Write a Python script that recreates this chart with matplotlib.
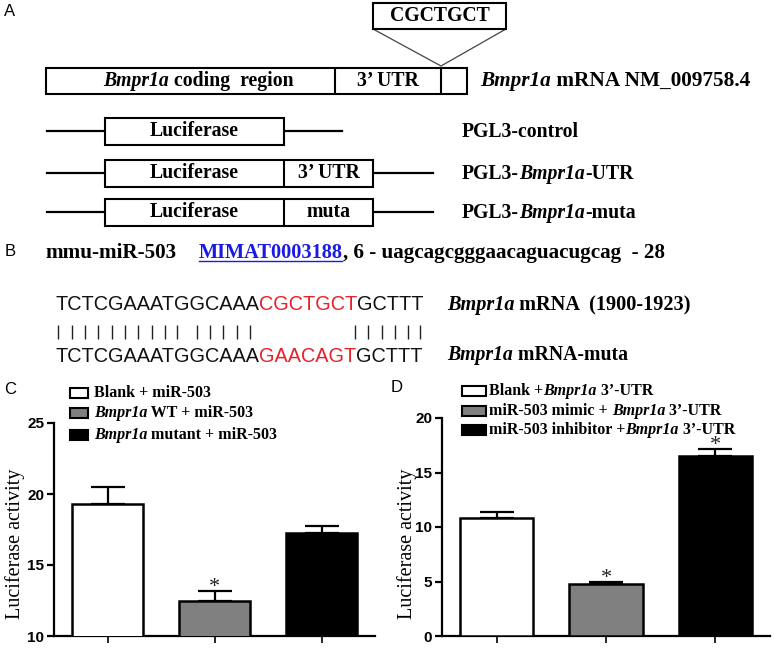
import numpy as np
import matplotlib
matplotlib.use('Agg')
import matplotlib.pyplot as plt
from matplotlib.patches import Rectangle

SERIF = 'Liberation Serif'
SANS = 'Liberation Sans'
RED = '#e8202a'
BLUE = '#1a1ae6'
GRAY = '#808080'

# panel C: luciferase activity, target vs mutant
c_values = [19.3, 12.5, 17.25]
c_errors = [1.2, 0.7, 0.5]
c_colors = ['white', GRAY, 'black']
c_star = [False, True, False]
c_yticks = [10, 15, 20, 25]
c_legend = [[('Blank + miR-503', 'b')],
            [('Bmpr1a', 'bi'), (' WT + miR-503', 'b')],
            [('Bmpr1a', 'bi'), (' mutant + miR-503', 'b')]]

# panel D: mimic / inhibitor
d_values = [10.8, 4.75, 16.55]
d_errors = [0.55, 0.25, 0.6]
d_colors = ['white', GRAY, 'black']
d_star = [False, True, True]
d_yticks = [0, 5, 10, 15, 20]
d_legend = [[('Blank +', 'b'), ('Bmpr1a', 'bi'), (' 3\u2019-UTR', 'b')],
            [('miR-503 mimic + ', 'b'), ('Bmpr1a', 'bi'), (' 3\u2019-UTR', 'b')],
            [('miR-503 inhibitor +', 'b'), ('Bmpr1a', 'bi'), (' 3\u2019-UTR', 'b')]]

# panel B sequences
seq_wt = ['TCTCGAAATGGCAAA', 'CGCTGCT', 'GCTTT']
seq_mut = ['TCTCGAAATGGCAAA', 'GAACAGT', 'GCTTT']
mirna = ', 6 - uagcagcgggaacaguacugcag  - 28'

fig = plt.figure(figsize=(7.74, 6.49), dpi=100)
ax0 = fig.add_axes([0, 0, 1, 1], zorder=0)
ax0.set_xlim(0, 774)
ax0.set_ylim(649, 0)
ax0.axis('off')


def write(x, y, parts, size=14.2, family=SERIF, color='black'):
    # draws text pieces one after the other, each with its own style
    t = None
    for part in parts:
        s, style = part[0], part[1]
        col = part[2] if len(part) > 2 else color
        kw = dict(fontsize=size, family=family, color=col,
                  fontweight='bold' if 'b' in style else 'normal',
                  fontstyle='italic' if 'i' in style else 'normal')
        if t is None:
            t = ax0.text(x, y, s, ha='left', va='center', **kw)
        else:
            t = ax0.annotate(s, xy=(1, 0), xycoords=t, ha='left', va='bottom', **kw)
    return t


def box(x0, x1, yc, h=27):
    ax0.add_patch(Rectangle((x0, yc - h / 2), x1 - x0, h, facecolor='white',
                            edgecolor='black', lw=1.5, zorder=3))


def center_text(x, y, s, size=14.2):
    ax0.text(x, y, s, ha='center', va='center', fontsize=size, family=SERIF,
             fontweight='bold', zorder=4)


# ---- A: constructs ----
ax0.text(10, 12, 'A', ha='center', va='center', family=SANS, fontsize=12)
box(373, 506, 16, 26)
center_text(439.5, 16, 'CGCTGCT')
ax0.plot([373, 441, 506], [29, 66, 29], color='#444444', lw=0.9)

box(46, 467, 81, 26)
ax0.vlines([335, 441], 68, 94, color='black', lw=1.5, zorder=4)
write(103, 81, [('Bmpr1a', 'bi'), (' coding  region', 'b')])
center_text(388, 81, '3\u2019 UTR')
write(480, 81, [('Bmpr1a', 'bi'), (' mRNA NM_009758.4', 'b')], size=15.3)

# PGL3-control
ax0.plot([47, 342], [131, 131], color='black', lw=1.6, zorder=2)
box(105, 284, 131)
center_text(194.5, 131, 'Luciferase')
write(462, 132, [('PGL3-control', 'b')])

# PGL3-UTR and muta
for yc, insert, tail in [(173, '3\u2019 UTR', '-UTR'), (212, 'muta', '-muta')]:
    ax0.plot([47, 433], [yc, yc], color='black', lw=1.6, zorder=2)
    box(105, 373, yc)
    ax0.vlines(284, yc - 13.5, yc + 13.5, color='black', lw=1.5, zorder=4)
    center_text(194.5, yc, 'Luciferase')
    center_text(328.5, yc, insert)
    write(462, yc + 1, [('PGL3-', 'b'), ('Bmpr1a', 'bi'), (tail, 'b')])

# ---- B: seed match ----
ax0.text(10, 252, 'B', ha='center', va='center', family=SANS, fontsize=12)
write(45, 253, [('mmu-miR-503', 'b')], size=15.2)
link = write(199, 253, [('MIMAT0003188', 'b')], size=14.7, color=BLUE)
ax0.annotate(mirna, xy=(1, 0), xycoords=link, ha='left', va='bottom',
             fontsize=15.2, family=SERIF, fontweight='bold')

for row, seq in [(305, seq_wt), (356, seq_mut)]:
    write(55, row, [(seq[0], '', '#111111'), (seq[1], '', RED), (seq[2], '', '#111111')],
          size=14.3, family=SANS)
pair_x = [58, 71.7, 85, 98.3, 111.7, 125, 138.3, 151.7, 165, 176.7,
          196.7, 210, 223.3, 236.7, 250, 355, 368.3, 381.7, 395, 408.3, 420]
ax0.vlines(pair_x, 325, 339, color='#222222', lw=1.0)
write(447, 305, [('Bmpr1a', 'bi'), (' mRNA  (1900-1923)', 'b')], size=14.6)
write(447, 355, [('Bmpr1a', 'bi'), (' mRNA-muta', 'b')])


# ---- C and D: bar charts ----
def bar_panel(rect, values, errors, colors, stars, yticks, ylab_x, ylab_y):
    ax = fig.add_axes(rect, zorder=1)
    ax.patch.set_alpha(0)
    x = np.arange(len(values))
    ax.errorbar(x, values, yerr=[np.zeros(len(values)), errors], fmt='none',
                ecolor='black', elinewidth=1.6, capsize=12.5, capthick=1.6, zorder=2)
    ax.bar(x, values, width=0.67, color=colors, edgecolor='black', linewidth=1.8, zorder=3)
    for i, s in enumerate(stars):
        if s:
            ax.annotate('*', xy=(i, values[i] + errors[i]), xytext=(0, -4.5),
                        textcoords='offset points', ha='center', va='bottom',
                        fontsize=16, family=SERIF, color='#222222')
    ax.set_xlim(-0.5, 2.5)
    ax.set_ylim(yticks[0], yticks[-1])
    ax.set_yticks(yticks)
    ax.set_xticks(x)
    ax.set_xticklabels([])
    for sp in ['top', 'right']:
        ax.spines[sp].set_visible(False)
    for sp in ['left', 'bottom']:
        ax.spines[sp].set_linewidth(1.6)
    ax.tick_params(axis='y', length=5, width=1.6, pad=2, labelsize=11)
    ax.tick_params(axis='x', length=5, width=1.2)
    for lab in ax.get_yticklabels():
        lab.set_fontweight('bold')
        lab.set_family(SANS)
    ax.set_ylabel('Luciferase activity', family=SERIF, fontsize=14.5, va='center')
    ax.yaxis.set_label_coords(ylab_x, ylab_y)
    return ax


bar_panel([54 / 774, 13 / 649, 321 / 774, 213 / 649], c_values, c_errors, c_colors,
          c_star, c_yticks, (15 - 54) / 321, (636 - 544) / 213)
bar_panel([442 / 774, 13 / 649, 328 / 774, 218 / 649], d_values, d_errors, d_colors,
          d_star, d_yticks, (407 - 442) / 328, (636 - 544) / 218)

ax0.text(10, 390, 'C', ha='center', va='center', family=SANS, fontsize=12)
ax0.text(397, 388, 'D', ha='center', va='center', family=SANS, fontsize=12)

# legends
for yc, parts, col in zip([393, 413, 435], c_legend, c_colors):
    ax0.add_patch(Rectangle((70, yc - 5), 18, 10, facecolor=col, edgecolor='black', lw=1.5))
    write(94, yc, parts, size=11.5)
for yc, parts, col in zip([391, 411, 430], d_legend, d_colors):
    ax0.add_patch(Rectangle((462, yc - 5), 24, 10, facecolor=col, edgecolor='black', lw=1.5))
    write(489, yc, parts, size=11.5)

# underline for the accession link
fig.canvas.draw()
bb = link.get_window_extent()
inv = ax0.transData.inverted()
(ux0, _), (ux1, _) = inv.transform([[bb.x0, bb.y0], [bb.x1, bb.y0]])
ax0.plot([ux0, ux1 - 1], [261, 261], color=BLUE, lw=1.0)

fig.savefig('out.png', dpi=100)
